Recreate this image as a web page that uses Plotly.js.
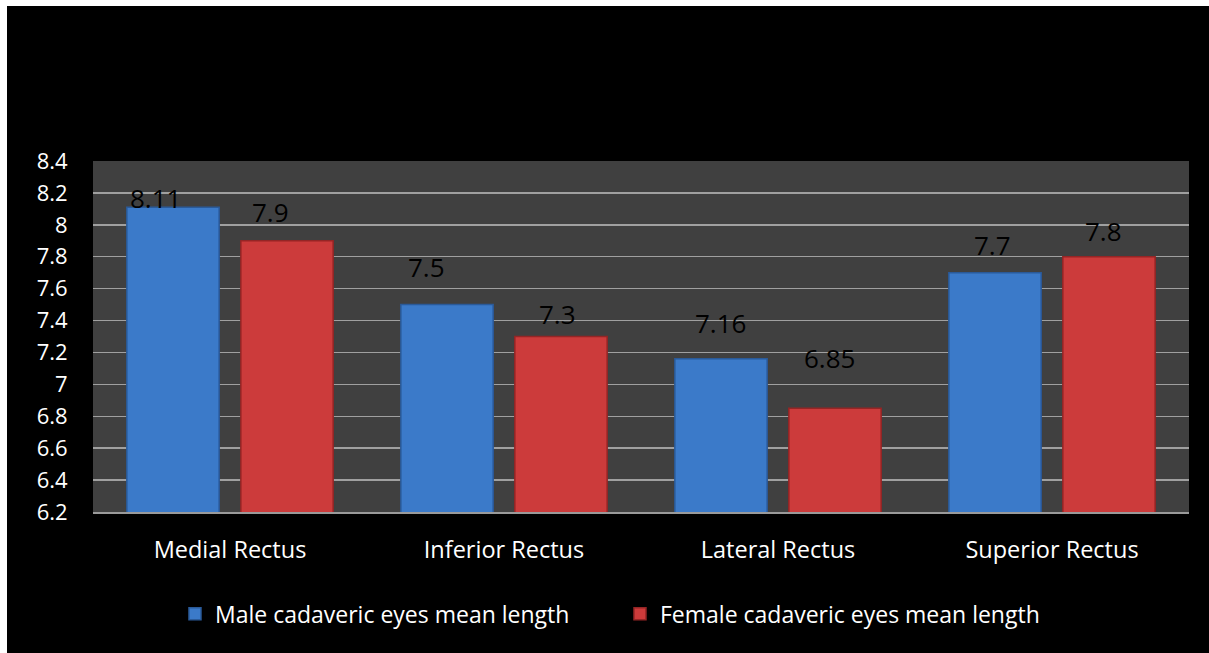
<!DOCTYPE html>
<html>
<head>
<meta charset="utf-8">
<script src="https://cdn.plot.ly/plotly-3.0.1.min.js"></script>
<style>
  html, body { margin: 0; padding: 0; background: #ffffff; width: 1209px; height: 653px; overflow: hidden; }
  #chart { position: absolute; left: 7px; top: 6px; width: 1202px; height: 647px; }
</style>
</head>
<body>
<div id="chart"></div>
<script>
// ---- data ----
const categories = ["Medial Rectus", "Inferior Rectus", "Lateral Rectus", "Superior Rectus"];
const maleName = "Male cadaveric eyes mean length";
const femaleName = "Female cadaveric eyes mean length";
const maleValues = [8.11, 7.5, 7.16, 7.7];
const femaleValues = [7.9, 7.3, 6.85, 7.8];
const yTickVals = [6.2, 6.4, 6.6, 6.8, 7, 7.2, 7.4, 7.6, 7.8, 8, 8.2, 8.4];
const yTickText = ["6.2", "6.4", "6.6", "6.8", "7", "7.2", "7.4", "7.6", "7.8", "8", "8.2", "8.4"];

// ---- label placement (pixel offsets from bar top, style only) ----
const maleLabelDx = [-18, -21, -1, -3];
const maleLabelDy = [9, 38, 36, 28];
const femaleLabelDx = [-17, -4, -6, -6];
const femaleLabelDy = [29, 23, 50, 26];
const groupOffset = 57;

const FONT = "'Open Sans', 'DejaVu Sans', sans-serif";

const male = {
  type: "bar", name: maleName, x: categories, y: maleValues,
  marker: { color: "#3b7ac9", line: { color: "#2a5a99", width: 1.5 } },
  hoverinfo: "x+y"
};
const female = {
  type: "bar", name: femaleName, x: categories, y: femaleValues,
  marker: { color: "#cc3b3b", line: { color: "#952525", width: 1.5 } },
  hoverinfo: "x+y"
};

const annotations = [];
categories.forEach((c, i) => {
  annotations.push({
    x: c, y: maleValues[i], xref: "x", yref: "y",
    text: String(maleValues[i]), showarrow: false,
    xanchor: "center", yanchor: "middle",
    xshift: -groupOffset + maleLabelDx[i], yshift: maleLabelDy[i],
    font: { family: FONT, size: 26, color: "#000000" }
  });
  annotations.push({
    x: c, y: femaleValues[i], xref: "x", yref: "y",
    text: String(femaleValues[i]), showarrow: false,
    xanchor: "center", yanchor: "middle",
    xshift: groupOffset + femaleLabelDx[i], yshift: femaleLabelDy[i],
    font: { family: FONT, size: 26, color: "#000000" }
  });
});

const layout = {
  width: 1202, height: 647,
  margin: { l: 86, r: 20, t: 155, b: 141, pad: 0 },
  paper_bgcolor: "#000000",
  plot_bgcolor: "#404040",
  barmode: "group",
  bargap: 0.168,
  bargroupgap: 0.19,
  showlegend: true,
  legend: {
    orientation: "h", x: 0.0748, xanchor: "left", y: -0.29, yanchor: "middle",
    font: { family: FONT, size: 23, color: "#ffffff" },
    bgcolor: "rgba(0,0,0,0)", itemwidth: 30, traceorder: "normal",
    entrywidth: 400, entrywidthmode: "pixels"
  },
  xaxis: {
    type: "category",
    showgrid: false, zeroline: false, showline: true, linecolor: "#9a9a9a", linewidth: 1.5,
    ticks: "outside", ticklen: 16, tickcolor: "rgba(0,0,0,0)",
    tickfont: { family: FONT, size: 23.5, color: "#ffffff" }
  },
  yaxis: {
    range: [6.2, 8.4], autorange: false,
    tickvals: yTickVals, ticktext: yTickText,
    showgrid: true, gridcolor: "#a0a0a0", gridwidth: 1.5,
    zeroline: false, showline: false,
    ticks: "outside", ticklen: 20, tickcolor: "rgba(0,0,0,0)",
    tickfont: { family: FONT, size: 22, color: "#ffffff" }
  },
  annotations: annotations,
  font: { family: FONT, color: "#ffffff" }
};

Plotly.newPlot("chart", [male, female], layout, { displayModeBar: false, staticPlot: true });
</script>
</body>
</html>
